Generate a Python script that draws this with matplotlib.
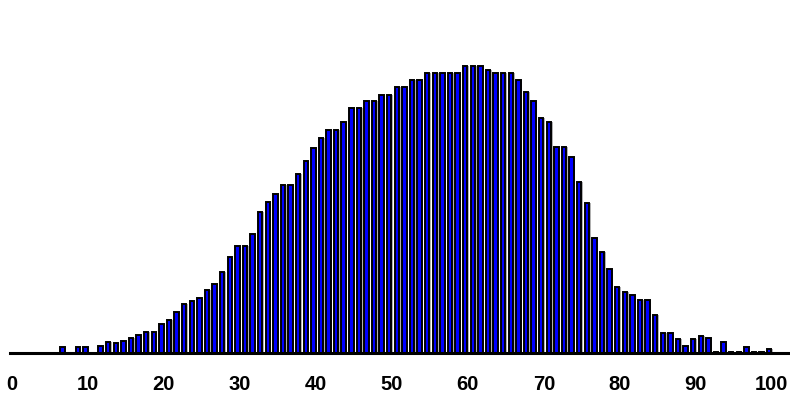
import numpy as np
import matplotlib
matplotlib.use('Agg')
import matplotlib.pyplot as plt

# score values 0..100 and how many fall on each
scores = list(range(0, 101))
counts = [0, 0, 0, 0, 0, 0, 0, 6, 0, 6,
          6, 0, 7, 11, 10, 12, 15, 18, 21, 21,
          29, 33, 41, 49, 52, 55, 63, 69, 81, 96,
          107, 107, 119, 141, 151, 159, 168, 168, 179, 192,
          205, 215, 223, 223, 231, 245, 245, 252, 252, 258,
          258, 266, 266, 273, 273, 280, 280, 280, 280, 280,
          287, 287, 287, 283, 280, 280, 280, 273, 261, 252,
          235, 231, 206, 206, 196, 171, 150, 115, 101, 84,
          66, 61, 58, 53, 53, 38, 20, 20, 14, 7,
          14, 17, 15, 1, 11, 1, 1, 6, 1, 1,
          4]
tick_vals = list(range(0, 101, 10))

fig = plt.figure(figsize=(7.9, 4.05), dpi=100)
ax = fig.add_axes([10 / 790, 52 / 405, 780 / 790, 300 / 405])

x = np.array(scores)
# soft gray shadow behind each bar
ax.bar(x + 0.15, counts, width=-0.7, align='edge', color='#b0b0b0', linewidth=0, zorder=1)
# blue bars with black outline
ax.bar(x - 0.05, counts, width=-0.58, align='edge', color='#0000ff', edgecolor='black', linewidth=1.4, zorder=2)

ax.set_xlim(-0.26, 102.4)
ax.set_ylim(0, 300)
ax.set_yticks([])
ax.set_xticks(tick_vals)
ax.set_xticklabels([str(t) for t in tick_vals], fontsize=14.5, fontweight='bold', family='Liberation Sans')
ax.tick_params(axis='x', length=0, pad=16)
for s in ['top', 'right', 'left']:
    ax.spines[s].set_visible(False)
ax.spines['bottom'].set_linewidth(2.2)
ax.spines['bottom'].set_color('black')
ax.spines['bottom'].set_zorder(3)

fig.savefig('out.png', dpi=100)
